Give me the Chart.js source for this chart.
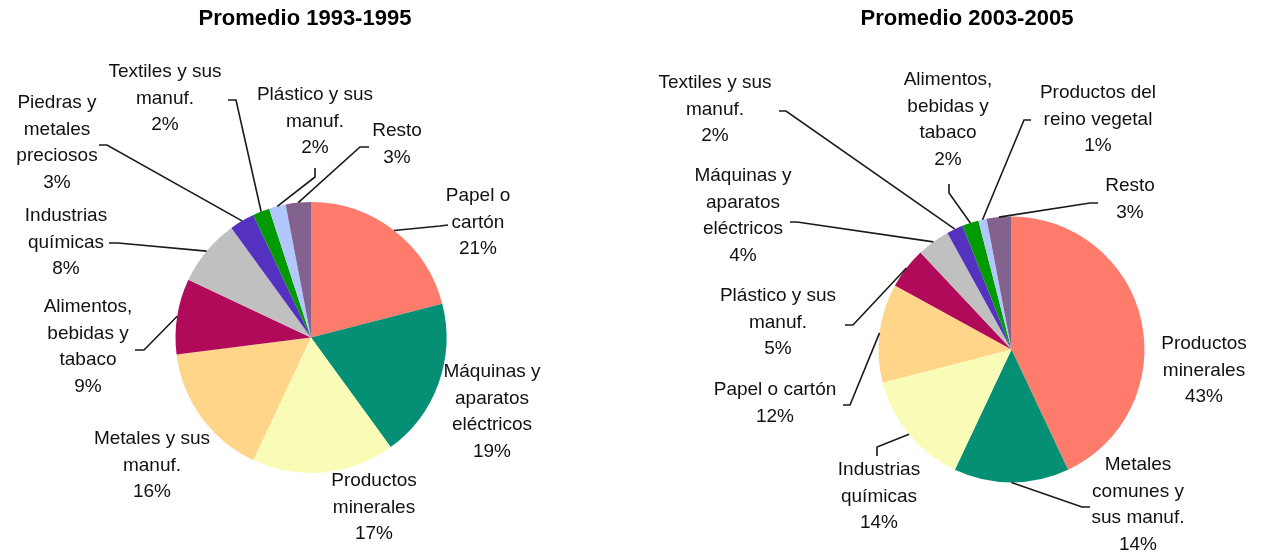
<!DOCTYPE html>
<html lang="es">
<head>
<meta charset="utf-8">
<title>Promedio 1993-1995 / 2003-2005</title>
<script src="https://cdn.jsdelivr.net/npm/chart.js@4.4.1/dist/chart.umd.min.js"></script>
<style>
  html, body { margin: 0; padding: 0; background: #ffffff; }
  #lienzo { position: relative; width: 1261px; height: 552px; }
  #lienzo canvas { position: absolute; top: 0; }
</style>
</head>
<body>
<div id="lienzo">
  <canvas id="grafico1993" width="630" height="552" style="left:0px"></canvas>
  <canvas id="grafico2003" width="631" height="552" style="left:630px"></canvas>
</div>
<script>
// Datos: Promedio 1993-1995
const categorias1993 = [
    ['Papel o', 'cartón'],
    ['Máquinas y', 'aparatos', 'eléctricos'],
    ['Productos', 'minerales'],
    ['Metales y sus', 'manuf.'],
    ['Alimentos,', 'bebidas y', 'tabaco'],
    ['Industrias', 'químicas'],
    ['Piedras y', 'metales', 'preciosos'],
    ['Textiles y sus', 'manuf.'],
    ['Plástico y sus', 'manuf.'],
    ['Resto']
];
const valores1993 = [21, 19, 17, 16, 9, 8, 3, 2, 2, 3];

// Datos: Promedio 2003-2005
const categorias2003 = [
    ['Productos', 'minerales'],
    ['Metales', 'comunes y', 'sus manuf.'],
    ['Industrias', 'químicas'],
    ['Papel o cartón'],
    ['Plástico y sus', 'manuf.'],
    ['Máquinas y', 'aparatos', 'eléctricos'],
    ['Textiles y sus', 'manuf.'],
    ['Alimentos,', 'bebidas y', 'tabaco'],
    ['Productos del', 'reino vegetal'],
    ['Resto']
];
const valores2003 = [43, 14, 14, 12, 5, 4, 2, 2, 1, 3];

// Colores por posición (igual en ambos gráficos)
const colores = [
    '#ff7c6d', '#058f74', '#f8fcb6', '#ffd58a', '#b20a5b',
    '#c0c0c0', '#5531c0', '#019a01', '#b3c7ff', '#83628e'
];

// Posición de las etiquetas (coordenadas de página): centro x, y de la 1ª línea,
// y puntos del conector (codo y final). El inicio del conector sale del arco.
const etiquetas1993 = [
    { x: 478, y: 196, linea: [[440, 226], [448, 225]] },
    { x: 492, y: 372, linea: null },
    { x: 374, y: 481, linea: null },
    { x: 152, y: 439, linea: null },
    { x: 88,  y: 307, linea: [[144, 350], [135, 350]] },
    { x: 66,  y: 216, linea: [[118, 243], [109, 243]] },
    { x: 57,  y: 103, linea: [[107, 145], [99, 145]] },
    { x: 165, y: 72,  linea: [[236, 100], [228, 100]] },
    { x: 315, y: 95,  linea: [[315, 177], [315, 168]] },
    { x: 397, y: 131, linea: [[360, 147], [369, 147]] }
];
const etiquetas2003 = [
    { x: 1204, y: 344, linea: null },
    { x: 1138, y: 465, linea: [[1082, 507], [1090, 507]] },
    { x: 879,  y: 470, linea: [[877, 447], [877, 456]] },
    { x: 775,  y: 390, linea: [[850, 405], [843, 405]] },
    { x: 778,  y: 296, linea: [[853, 325], [845, 325]] },
    { x: 743,  y: 176, linea: [[797, 222], [790, 222]] },
    { x: 715,  y: 83,  linea: [[786, 111], [779, 111]] },
    { x: 948,  y: 80,  linea: [[949, 193], [949, 184]] },
    { x: 1098, y: 93,  linea: [[1024, 120], [1031, 120]] },
    { x: 1130, y: 186, linea: [[1090, 203], [1098, 203]] }
];

const FUENTE = '"Liberation Sans", Arial, sans-serif';
const ALTO_LINEA = 26.5;

/**
 * Plugin que dibuja el título y las etiquetas con sus conectores.
 */
const pluginEtiquetas = {
    id: 'etiquetasPie',
    afterDraw(chart, args, opts) {
        const ctx = chart.ctx;
        const dx = opts.desplazamiento;
        const meta = chart.getDatasetMeta(0);
        const valores = chart.data.datasets[0].data;
        ctx.save();

        // Título
        ctx.fillStyle = '#000000';
        ctx.font = 'bold 22px ' + FUENTE;
        ctx.textAlign = 'center';
        ctx.textBaseline = 'middle';
        ctx.fillText(opts.titulo.texto, opts.titulo.x - dx, opts.titulo.y);

        meta.data.forEach((arco, i) => {
            const p = arco.getProps(['x', 'y', 'startAngle', 'endAngle', 'outerRadius'], true);
            const medio = (p.startAngle + p.endAngle) / 2;
            const ax = p.x + Math.cos(medio) * p.outerRadius;
            const ay = p.y + Math.sin(medio) * p.outerRadius;
            const et = opts.etiquetas[i];

            // Conector
            if (et.linea) {
                ctx.beginPath();
                ctx.strokeStyle = '#1a1a1a';
                ctx.lineWidth = 1.6;
                ctx.moveTo(ax, ay);
                et.linea.forEach(pt => ctx.lineTo(pt[0] - dx, pt[1]));
                ctx.stroke();
            }

            // Texto
            const lineas = [].concat(chart.data.labels[i], valores[i] + '%');
            ctx.font = '19px ' + FUENTE;
            ctx.fillStyle = '#111111';
            lineas.forEach((t, k) => {
                ctx.fillText(t, et.x - dx, et.y + k * ALTO_LINEA);
            });
        });
        ctx.restore();
    }
};

function crearPie(idCanvas, categorias, valores, padding, opcionesEtiquetas) {
    const ctx = document.getElementById(idCanvas).getContext('2d');
    return new Chart(ctx, {
        type: 'pie',
        data: {
            labels: categorias,
            datasets: [{
                data: valores,
                backgroundColor: colores,
                borderWidth: 0
            }]
        },
        options: {
            responsive: false,
            animation: false,
            layout: { padding: padding },
            plugins: {
                legend: { display: false },
                tooltip: { enabled: false },
                title: { display: false },
                etiquetasPie: opcionesEtiquetas
            }
        },
        plugins: [pluginEtiquetas]
    });
}

crearPie('grafico1993', categorias1993, valores1993,
    { left: 175.5, top: 202, right: 183.5, bottom: 79 },
    { desplazamiento: 0, etiquetas: etiquetas1993, titulo: { texto: 'Promedio 1993-1995', x: 305, y: 19 } });

crearPie('grafico2003', categorias2003, valores2003,
    { left: 248.5, top: 216.5, right: 116.5, bottom: 69.5 },
    { desplazamiento: 630, etiquetas: etiquetas2003, titulo: { texto: 'Promedio 2003-2005', x: 967, y: 19 } });
</script>
</body>
</html>
